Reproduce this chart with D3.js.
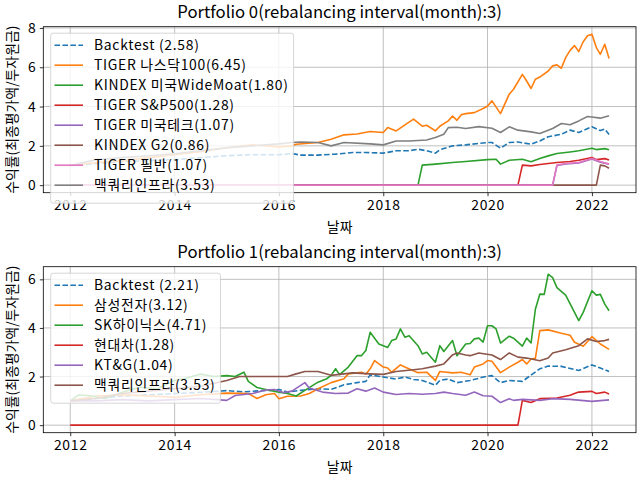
<!DOCTYPE html>
<html>
<head>
<meta charset="utf-8">
<script src="https://cdn.jsdelivr.net/npm/d3@7"></script>
<style>
body { margin: 0; background: #fff; }
text { font-family: "Noto Sans CJK KR", sans-serif; fill: #000; }
</style>
</head>
<body>
<script>
(function(){

//titles and axis labels
var titles = ["Portfolio 0(rebalancing interval(month):3)", "Portfolio 1(rebalancing interval(month):3)"];
var xLabel = "날짜";
var yLabel = "수익률(최종평가액/투자원금)";
var yTicks0 = [0, 2, 4, 6, 8];
var yTicks1 = [0, 2, 4, 6];

//portfolio 0 legend labels (final value in brackets)
var p0Labels = ["Backtest (2.58)", "TIGER 나스닥100(6.45)", "KINDEX 미국WideMoat(1.80)", "TIGER S&P500(1.28)",
    "TIGER 미국테크(1.07)", "KINDEX G2(0.86)", "TIGER 필반(1.07)", "맥쿼리인프라(3.53)"];

//portfolio 0 series, [month, value]
var p0Backtest = [["2012-01",1.0],["2012-07",1.1],["2013-01",1.2],["2013-07",1.25],["2014-01",1.3],["2014-07",1.4],
    ["2015-01",1.5],["2015-07",1.55],["2016-01",1.55],["2016-04",1.61],["2016-06",1.53],["2016-10",1.53],["2017-02",1.58],
    ["2017-06",1.66],["2017-09",1.66],["2018-01",1.63],["2018-04",1.75],["2018-07",1.75],["2018-09",1.83],["2018-11",1.75],
    ["2019-01",1.63],["2019-02",1.8],["2019-05",2.0],["2019-08",2.05],["2020-01",2.17],["2020-02",2.17],["2020-04",1.88],
    ["2020-06",2.17],["2020-08",2.2],["2020-11",2.08],["2021-01",2.25],["2021-03",2.46],["2021-06",2.59],["2021-08",2.8],
    ["2021-10",2.68],["2022-01",2.97],["2022-03",2.78],["2022-04",2.85],["2022-05",2.58]];
var p0Nasdaq = [["2012-01",1.0],["2012-07",1.15],["2013-01",1.25],["2013-07",1.4],["2014-01",1.55],["2014-07",1.7],
    ["2015-01",1.9],["2015-07",2.05],["2016-01",1.95],["2016-04",2.0],["2016-05",2.08],["2016-10",2.17],["2017-01",2.34],
    ["2017-04",2.56],["2017-07",2.6],["2017-10",2.73],["2018-01",2.68],["2018-02",2.93],["2018-04",2.76],["2018-08",3.36],
    ["2018-10",3.0],["2018-11",3.05],["2019-01",2.76],["2019-02",3.0],["2019-04",3.27],["2019-05",3.52],["2019-06",3.3],
    ["2019-07",3.58],["2019-08",3.64],["2019-10",3.69],["2019-12",3.9],["2020-01",4.03],["2020-02",4.29],["2020-04",3.64],
    ["2020-06",4.63],["2020-07",4.88],["2020-09",5.64],["2020-10",5.3],["2020-11",4.92],["2020-12",5.39],["2021-01",5.5],
    ["2021-03",5.81],["2021-04",6.07],["2021-05",6.12],["2021-06",5.95],["2021-07",6.49],["2021-08",6.86],["2021-09",7.1],
    ["2021-10",6.8],["2021-11",7.3],["2021-12",7.6],["2022-01",7.68],["2022-02",7.0],["2022-03",6.66],["2022-04",7.17],
    ["2022-05",6.45]];
var p0WideMoat = [["2012-01",0],["2018-09",0],["2018-10",1.02],["2019-01",1.07],["2019-05",1.15],["2019-08",1.2],
    ["2020-01",1.3],["2020-03",1.32],["2020-04",1.07],["2020-06",1.27],["2020-09",1.32],["2020-11",1.19],["2021-01",1.36],
    ["2021-03",1.49],["2021-05",1.61],["2021-08",1.69],["2021-10",1.75],["2022-01",1.88],["2022-02",1.81],["2022-04",1.86],
    ["2022-05",1.80]];
var p0SP500 = [["2012-01",0],["2020-08",0],["2020-09",1.02],["2020-11",0.98],["2021-01",1.05],["2021-05",1.15],
    ["2021-08",1.2],["2021-10",1.27],["2022-01",1.41],["2022-02",1.3],["2022-04",1.35],["2022-05",1.28]];
var p0Tech = [["2012-01",0],["2021-04",0],["2021-05",1.0],["2021-07",1.08],["2021-10",1.13],["2022-01",1.33],
    ["2022-03",1.17],["2022-05",1.07]];
var p0G2 = [["2012-01",0],["2022-02",0],["2022-03",1.02],["2022-04",0.98],["2022-05",0.86]];
var p0Phil = [["2012-01",0],["2021-04",0],["2021-05",1.02],["2021-07",1.1],["2021-10",1.15],["2022-01",1.36],
    ["2022-03",1.2],["2022-05",1.07]];
var p0Macq = [["2012-01",1.0],["2012-07",1.3],["2013-01",1.4],["2013-07",1.5],["2014-01",1.6],["2014-07",1.75],
    ["2015-01",1.9],["2015-07",2.0],["2016-01",2.1],["2016-04",2.17],["2016-06",2.2],["2016-10",2.17],["2017-01",2.0],
    ["2017-04",2.17],["2017-10",2.1],["2018-01",2.05],["2018-04",2.25],["2018-07",2.25],["2018-11",2.3],["2019-01",2.42],
    ["2019-03",2.59],["2019-04",2.93],["2019-06",2.95],["2019-08",2.88],["2019-11",2.98],["2020-02",2.9],["2020-04",2.68],
    ["2020-06",2.97],["2020-08",2.8],["2020-11",2.71],["2021-01",2.63],["2021-04",2.88],["2021-06",3.14],["2021-08",3.07],
    ["2021-10",3.27],["2021-12",3.49],["2022-01",3.47],["2022-03",3.41],["2022-05",3.53]];

//portfolio 1 legend labels
var p1Labels = ["Backtest (2.21)", "삼성전자(3.12)", "SK하이닉스(4.71)", "현대차(1.28)", "KT&G(1.04)", "맥쿼리인프라(3.53)"];

//portfolio 1 series, [month, value]
var p1Backtest = [["2012-01",1.0],["2012-07",1.1],["2013-01",1.2],["2013-07",1.25],["2014-01",1.3],["2014-07",1.35],
    ["2015-01",1.42],["2015-05",1.37],["2015-09",1.42],["2015-11",1.43],["2016-01",1.47],["2016-03",1.36],["2016-06",1.43],
    ["2016-10",1.5],["2017-01",1.47],["2017-04",1.66],["2017-07",1.75],["2017-09",1.8],["2017-10",2.07],["2018-01",1.98],
    ["2018-04",1.9],["2018-06",1.98],["2018-08",1.88],["2018-10",1.84],["2019-01",1.64],["2019-02",1.84],["2019-04",1.9],
    ["2019-06",1.75],["2019-09",1.84],["2020-01",2.02],["2020-02",2.04],["2020-04",1.75],["2020-06",1.84],["2020-09",1.8],
    ["2020-10",1.93],["2021-01",2.32],["2021-03",2.43],["2021-06",2.42],["2021-10",2.25],["2022-01",2.48],["2022-03",2.35],
    ["2022-05",2.21]];
var p1Samsung = [["2012-01",1.0],["2012-07",1.2],["2013-01",1.25],["2013-07",1.2],["2014-01",1.15],["2014-07",1.25],
    ["2015-01",1.32],["2015-06",1.3],["2015-08",1.1],["2015-10",1.25],["2015-12",1.3],["2016-01",1.09],["2016-03",1.19],
    ["2016-06",1.2],["2016-08",1.3],["2016-10",1.5],["2017-01",1.75],["2017-04",1.91],["2017-05",2.11],["2017-08",2.18],
    ["2017-09",2.1],["2017-10",2.32],["2017-11",2.66],["2018-01",2.39],["2018-02",2.35],["2018-03",2.18],["2018-05",2.48],
    ["2018-06",2.39],["2018-09",2.16],["2018-11",2.18],["2019-01",1.84],["2019-02",2.21],["2019-05",2.15],["2019-07",2.18],
    ["2019-09",2.07],["2019-10",2.39],["2019-12",2.52],["2020-01",2.66],["2020-02",2.63],["2020-04",2.16],["2020-06",2.39],
    ["2020-08",2.59],["2020-09",2.7],["2020-10",2.52],["2020-11",2.72],["2020-12",2.75],["2021-01",3.89],["2021-03",3.92],
    ["2021-06",3.78],["2021-08",3.7],["2021-09",3.41],["2021-11",3.25],["2022-01",3.64],["2022-03",3.34],["2022-05",3.12]];
var p1Hynix = [["2012-01",1.0],["2012-03",1.25],["2012-06",1.2],["2012-09",1.1],["2013-01",1.35],["2013-05",1.56],
    ["2013-09",1.5],["2014-01",1.85],["2014-03",1.9],["2014-07",2.1],["2014-10",2.0],["2015-01",2.04],["2015-03",2.0],
    ["2015-05",2.18],["2015-06",1.8],["2015-08",1.55],["2015-11",1.43],["2016-01",1.36],["2016-03",1.3],["2016-05",1.2],
    ["2016-07",1.43],["2016-10",1.77],["2016-12",1.91],["2017-01",2.05],["2017-02",2.32],["2017-03",2.08],["2017-05",2.39],
    ["2017-07",2.86],["2017-08",2.86],["2017-09",3.07],["2017-10",3.82],["2017-12",3.34],["2018-02",3.2],["2018-03",3.48],
    ["2018-04",3.55],["2018-05",3.96],["2018-06",3.62],["2018-07",3.68],["2018-09",3.27],["2018-10",2.93],["2018-11",3.0],
    ["2019-01",2.59],["2019-02",3.27],["2019-03",3.03],["2019-05",3.48],["2019-06",2.86],["2019-08",3.34],["2019-09",3.36],
    ["2019-10",3.55],["2019-11",3.58],["2019-12",3.42],["2020-01",4.09],["2020-02",4.09],["2020-03",3.96],["2020-04",3.38],
    ["2020-06",3.66],["2020-07",3.58],["2020-09",3.25],["2020-10",3.58],["2020-11",3.38],["2020-12",4.77],["2021-01",5.39],
    ["2021-02",5.38],["2021-03",6.21],["2021-04",6.07],["2021-05",5.66],["2021-07",5.35],["2021-10",4.3],["2021-11",4.64],
    ["2022-01",5.53],["2022-02",5.35],["2022-03",5.38],["2022-04",4.98],["2022-05",4.71]];
var p1Hyundai = [["2012-01",0],["2020-08",0],["2020-09",1.02],["2020-11",0.93],["2021-01",1.09],["2021-05",1.12],
    ["2021-08",1.23],["2021-09",1.3],["2021-10",1.36],["2022-01",1.39],["2022-02",1.3],["2022-04",1.36],["2022-05",1.28]];
var p1KTG = [["2012-01",1.0],["2012-07",1.0],["2013-01",1.05],["2013-07",1.0],["2014-01",1.05],["2014-07",1.1],
    ["2015-01",1.02],["2015-03",1.22],["2015-07",1.3],["2015-10",1.45],["2015-12",1.47],["2016-02",1.34],["2016-04",1.4],
    ["2016-07",1.75],["2016-08",1.53],["2016-11",1.36],["2017-02",1.3],["2017-05",1.32],["2017-07",1.5],["2017-09",1.4],
    ["2017-11",1.53],["2018-01",1.36],["2018-04",1.26],["2018-07",1.3],["2018-10",1.27],["2019-01",1.3],["2019-03",1.36],
    ["2019-05",1.3],["2019-08",1.23],["2019-10",1.36],["2019-12",1.21],["2020-02",1.19],["2020-04",0.93],["2020-06",1.09],
    ["2020-07",1.02],["2020-09",1.06],["2021-01",1.02],["2021-04",1.09],["2021-08",1.06],["2022-01",0.98],["2022-05",1.04]];
var p1Macq = [["2012-01",1.0],["2012-07",1.1],["2013-01",1.3],["2013-07",1.4],["2014-01",1.5],["2014-07",1.6],
    ["2015-01",1.84],["2015-04",2.0],["2015-07",2.0],["2015-11",2.0],["2016-01",2.0],["2016-03",2.0],["2016-05",2.11],
    ["2016-07",2.21],["2016-10",2.21],["2017-01",2.05],["2017-03",2.09],["2017-06",2.15],["2017-10",2.11],["2018-01",2.09],
    ["2018-04",2.21],["2018-08",2.28],["2018-10",2.32],["2019-01",2.43],["2019-03",2.52],["2019-05",2.89],["2019-06",2.97],
    ["2019-08",2.89],["2019-09",2.86],["2019-11",2.97],["2020-02",2.89],["2020-04",2.7],["2020-06",2.97],["2020-08",2.8],
    ["2020-10",2.76],["2021-01",2.65],["2021-03",2.76],["2021-04",2.97],["2021-07",3.1],["2021-10",3.27],["2021-12",3.55],
    ["2022-02",3.44],["2022-04",3.48],["2022-05",3.53]];

//matplotlib default colour cycle
var colors = ["#1f77b4", "#ff7f0e", "#2ca02c", "#d62728", "#9467bd", "#8c564b", "#e377c2", "#7f7f7f"];

var parseMonth = d3.timeParse("%Y-%m");

var width = 640, height = 480;

var svg = d3.select("body")
    .append("svg")
    .attr("width", width)
    .attr("height", height);

//draw both panels
drawPanel({
    top: 26.7, bottom: 192.7, title: titles[0], yDomain: [-0.384, 8.064], yTicks: yTicks0,
    labels: p0Labels,
    series: [p0Backtest, p0Nasdaq, p0WideMoat, p0SP500, p0Tech, p0G2, p0Phil, p0Macq]
});
drawPanel({
    top: 266.7, bottom: 432.7, title: titles[1], yDomain: [-0.31, 6.52], yTicks: yTicks1,
    labels: p1Labels,
    series: [p1Backtest, p1Samsung, p1Hynix, p1Hyundai, p1KTG, p1Macq]
});

function drawPanel(cfg){
    var left = 43.3, right = 636;

    //x scale with matplotlib-like 5% margins
    var allDates = [];
    cfg.series.forEach(function(s){
        s.forEach(function(d){ allDates.push(parseMonth(d[0])); });
    });
    var ext = d3.extent(allDates);
    var pad = (ext[1] - ext[0]) * 0.05;
    var x = d3.scaleTime()
        .domain([new Date(+ext[0] - pad), new Date(+ext[1] + pad)])
        .range([left, right]);
    var y = d3.scaleLinear()
        .domain(cfg.yDomain)
        .range([cfg.bottom, cfg.top]);

    var g = svg.append("g");

    //grid lines
    var xTicks = d3.timeYear.every(2).range(ext[0], new Date(+ext[1] + pad));
    g.selectAll(".xgrid")
        .data(xTicks)
        .enter()
        .append("line")
        .attr("x1", function(d){ return x(d); })
        .attr("x2", function(d){ return x(d); })
        .attr("y1", cfg.top)
        .attr("y2", cfg.bottom)
        .attr("stroke", "#b0b0b0")
        .attr("stroke-width", 0.8);
    g.selectAll(".ygrid")
        .data(cfg.yTicks)
        .enter()
        .append("line")
        .attr("x1", left)
        .attr("x2", right)
        .attr("y1", function(d){ return y(d); })
        .attr("y2", function(d){ return y(d); })
        .attr("stroke", "#b0b0b0")
        .attr("stroke-width", 0.8);

    //series lines
    var line = d3.line()
        .x(function(d){ return x(parseMonth(d[0])); })
        .y(function(d){ return y(d[1]); });
    cfg.series.forEach(function(s, i){
        g.append("path")
            .datum(s)
            .attr("d", line)
            .attr("fill", "none")
            .attr("stroke", colors[i])
            .attr("stroke-width", 1.6)
            .attr("stroke-linejoin", "round")
            .attr("stroke-dasharray", i == 0 ? "5.55,2.4" : null);
    });

    //axes
    var xAxis = d3.axisBottom(x)
        .tickValues(xTicks)
        .tickFormat(d3.timeFormat("%Y"))
        .tickSize(3.5)
        .tickPadding(3.5);
    var gx = g.append("g")
        .attr("transform", "translate(0," + cfg.bottom + ")")
        .call(xAxis);
    var yAxis = d3.axisLeft(y)
        .tickValues(cfg.yTicks)
        .tickFormat(d3.format("d"))
        .tickSize(3.5)
        .tickPadding(3.5);
    var gy = g.append("g")
        .attr("transform", "translate(" + left + ",0)")
        .call(yAxis);
    [gx, gy].forEach(function(a){
        a.select(".domain").remove();
        a.selectAll(".tick line").attr("stroke", "#000").attr("stroke-width", 0.8);
        a.selectAll(".tick text")
            .attr("font-size", "13.9px")
            .attr("letter-spacing", "0.7px")
            .attr("font-family", "Noto Sans CJK KR");
    });

    //frame
    g.append("rect")
        .attr("x", left)
        .attr("y", cfg.top)
        .attr("width", right - left)
        .attr("height", cfg.bottom - cfg.top)
        .attr("fill", "none")
        .attr("stroke", "#000")
        .attr("stroke-width", 0.8);

    //title and axis labels
    g.append("text")
        .attr("x", (left + right) / 2)
        .attr("y", cfg.top - 9)
        .attr("text-anchor", "middle")
        .attr("font-size", "16.7px")
        .text(cfg.title);
    g.append("text")
        .attr("x", (left + right) / 2)
        .attr("y", cfg.bottom + 39)
        .attr("text-anchor", "middle")
        .attr("font-size", "13.9px")
        .text(xLabel);
    g.append("text")
        .attr("transform", "translate(17," + (cfg.top + cfg.bottom) / 2 + ") rotate(-90)")
        .attr("text-anchor", "middle")
        .attr("font-size", "13.9px")
        .text(yLabel);

    //legend
    var n = cfg.labels.length;
    var lg = g.append("g");
    var box = lg.append("rect")
        .attr("x", 50.7)
        .attr("y", cfg.top + 6.5)
        .attr("height", n * 20 + 10)
        .attr("rx", 2.5)
        .attr("fill", "#fff")
        .attr("fill-opacity", 0.8)
        .attr("stroke", "#cccccc")
        .attr("stroke-width", 0.8);
    var maxW = 0;
    cfg.labels.forEach(function(lab, i){
        var cy = cfg.top + 18.5 + i * 20;
        lg.append("line")
            .attr("x1", 54.5)
            .attr("x2", 83)
            .attr("y1", cy)
            .attr("y2", cy)
            .attr("stroke", colors[i])
            .attr("stroke-width", 1.6)
            .attr("stroke-dasharray", i == 0 ? "5.55,2.4" : null);
        var t = lg.append("text")
            .attr("x", 94)
            .attr("y", cy + 5)
            .attr("font-size", "13.9px")
            .attr("letter-spacing", "0.7px")
            .text(lab);
        maxW = Math.max(maxW, t.node().getComputedTextLength());
    });
    box.attr("width", 94 + maxW + 5 - 50.7);
}

})();
</script>
</body>
</html>
